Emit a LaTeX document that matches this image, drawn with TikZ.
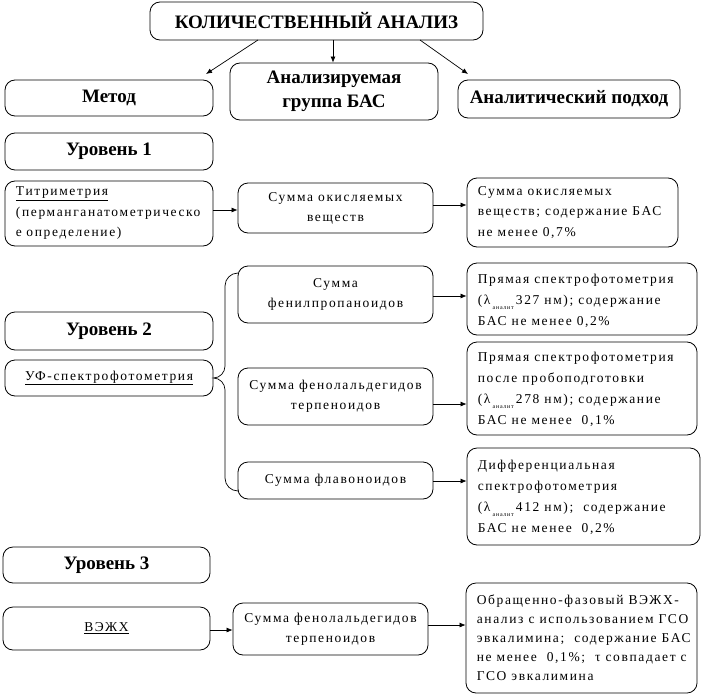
\documentclass[tikz,border=0pt]{standalone}
\usepackage{fontspec}
\setmainfont{Liberation Serif}
\newfontfamily\spaced{Liberation Serif}[LetterSpace=12]
\usetikzlibrary{arrows.meta}
\newcommand{\lamsub}[1]{(λ\,\raisebox{-5pt}{\fontsize{6}{6}\selectfont аналит}\,#1 нм)}
\tikzset{
  box/.style={draw, line width=0.8pt, rounded corners=10pt, inner sep=0pt},
  head/.style={box, font=\fontsize{19}{24}\selectfont\bfseries, align=center},
  mid/.style={box, font=\spaced\fontsize{13.5}{20}\selectfont, align=center},
  restext/.style={anchor=west, inner sep=0pt, xshift=11pt, font=\spaced\fontsize{13.5}{20.8}\selectfont, align=left},
  arr/.style={line width=0.7pt, -{Latex[length=6pt,width=5pt]}},
  brace/.style={line width=0.7pt}
}
\begin{document}
\begin{tikzpicture}[x=1pt,y=-1pt]
\useasboundingbox (0,0) rectangle (703,698);
% top row
\node[head, minimum width=333pt, minimum height=38pt] (top) at (316.5,21) {КОЛИЧЕСТВЕННЫЙ АНАЛИЗ};
\node[head, minimum width=208pt, minimum height=36pt] (metod) at (109,98) {Метод};
\node[head, minimum width=208pt, minimum height=57pt] (group) at (334,91.5) {Анализируемая\\группа БАС};
\node[head, minimum width=222pt, minimum height=38pt] (approach) at (569,99) {Аналитический подход};
\coordinate (t1) at (258,40);
\coordinate (t2) at (333,40);
\coordinate (t3) at (420,40);
\coordinate (h1) at (206,74);
\coordinate (h3) at (468,74);
\draw[arr] (t1) -- (h1);
\draw[arr] (t2) -- (group.north -| t2);
\draw[arr] (t3) -- (h3);
% level 1
\node[head, minimum width=208pt, minimum height=37pt] (lev1) at (109,151.5) {Уровень 1};
\node[box, minimum width=208pt, minimum height=65pt, font=\spaced\fontsize{13.5}{20.5}\selectfont, align=left, text width=186pt, inner xsep=11pt] (titr) at (109,213.5) {\underline{Титриметрия}\\(перманганатометрическо\\е определение)};
\node[mid, minimum width=195pt, minimum height=50pt] (ox) at (335.5,208) {Сумма окисляемых\\веществ};
\node[box, minimum width=211pt, minimum height=69pt] (r1) at (572.5,212.5) {};
\node[restext] (r1t) at (r1.west) {Сумма окисляемых\\веществ; содержание БАС\\не менее 0,7\%};
\draw[arr] (titr.east |- 0,210) -- (ox.west |- 0,210);
\draw[arr] (ox.east |- 0,205) -- (r1.west |- 0,205);
% level 2
\node[head, minimum width=208pt, minimum height=38pt] (lev2) at (109,331) {Уровень 2};
\node[mid, minimum width=208pt, minimum height=36pt] (uf) at (109,378) {\underline{УФ-спектрофотометрия}};
\node[mid, minimum width=195pt, minimum height=57pt] (phen) at (335.5,294.5) {Сумма\\фенилпропаноидов};
\node[mid, minimum width=195pt, minimum height=57pt] (ald) at (335.5,396.5) {Сумма фенолальдегидов\\терпеноидов};
\node[mid, minimum width=195pt, minimum height=37pt] (flav) at (335.5,480.5) {Сумма флавоноидов};
\node[box, minimum width=230pt, minimum height=72pt] (r2) at (582,299) {};
\node[restext, yshift=-2pt] (r2t) at (r2.west) {Прямая спектрофотометрия\\\lamsub{327}; содержание\\БАС не менее 0,2\%};
\node[box, minimum width=230pt, minimum height=93pt] (r3) at (582,388.5) {};
\node[restext, yshift=-1pt] (r3t) at (r3.west) {Прямая спектрофотометрия\\после пробоподготовки\\\lamsub{278}; содержание\\БАС не менее~ 0,1\%};
\node[box, minimum width=233pt, minimum height=97pt] (r4) at (583.5,496.5) {};
\node[restext, yshift=-1pt] (r4t) at (r4.west) {Дифференциальная\\спектрофотометрия\\\lamsub{412};~ содержание\\БАС не менее~ 0,2\%};
\draw[arr] (phen.east |- 0,296) -- (r2.west |- 0,296);
\draw[arr] (ald.east |- 0,404) -- (r3.west |- 0,404);
\draw[arr] (flav.east |- 0,481) -- (r4.west |- 0,481);
\coordinate (bt) at (238,273);
\coordinate (bb) at (238,491);
\draw[brace] (bt) to[out=180,in=90] (225,286) -- (225,366) to[out=-90,in=0] (uf.east) to[out=0,in=90] (225,390) -- (225,478) to[out=-90,in=180] (bb);
% level 3
\node[head, minimum width=207pt, minimum height=36pt] (lev3) at (106.5,565) {Уровень 3};
\node[mid, minimum width=207pt, minimum height=43pt] (hplc) at (106.5,628.5) {\underline{ВЭЖХ}};
\node[mid, minimum width=195pt, minimum height=52pt] (ald2) at (330.5,629) {Сумма фенолальдегидов\\терпеноидов};
\node[box, minimum width=231pt, minimum height=110pt] (r5) at (581.5,638) {};
\node[restext, font=\spaced\fontsize{13.5}{19}\selectfont] (r5t) at (r5.west) {Обращенно-фазовый ВЭЖХ-\\анализ с использованием ГСО\\эвкалимина;~ содержание БАС\\не менее~ 0,1\%;~ τ совпадает с\\ГСО эвкалимина};
\draw[arr] (hplc.east |- 0,630) -- (ald2.west |- 0,630);
\draw[arr] (ald2.east |- 0,625) -- (r5.west |- 0,625);
\end{tikzpicture}
\end{document}
